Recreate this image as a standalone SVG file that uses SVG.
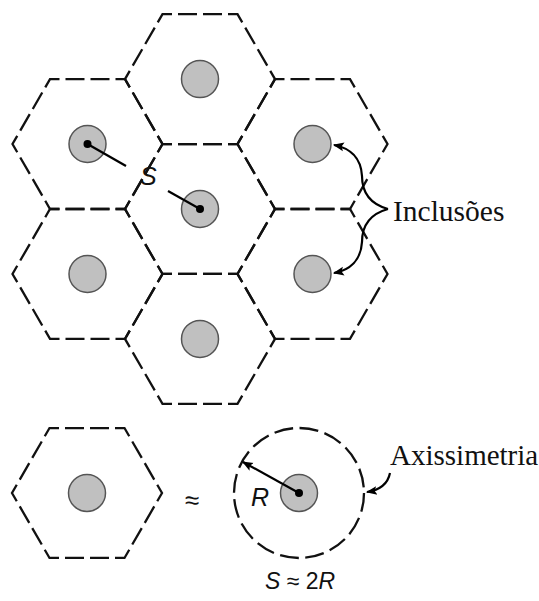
<svg xmlns="http://www.w3.org/2000/svg" width="539" height="601" viewBox="0 0 539 601">
<style>
.hex{fill:none;stroke:#111;stroke-width:2.3;stroke-dasharray:19 6;stroke-dashoffset:9.5}
.inc{fill:#c0c0c0;stroke:#555;stroke-width:1.5}
.dot{fill:#000}
.ln{fill:none;stroke:#000;stroke-width:2.2}
.sans{font-family:"Liberation Sans",Arial,sans-serif;fill:#111}
.serif{font-family:"Liberation Serif","Times New Roman",serif;fill:#111}
</style>
<defs>
<path id="hx" class="hex" d="M75,0 L37.5,64.952 L-37.5,64.952 L-75,0 L-37.5,-64.952 L37.5,-64.952 Z"/>
<marker id="ah" viewBox="0 0 10 10" refX="9" refY="5" markerWidth="11" markerHeight="11" markerUnits="userSpaceOnUse" orient="auto">
<path d="M0,1 L10,5 L0,9 L2,5 z" fill="#000"/>
</marker>
</defs>
<g id="cell-center"><use href="#hx" x="200" y="209"/><circle class="inc" cx="200" cy="209" r="18.5"/><circle class="dot" cx="200" cy="209" r="4"/></g>
<g id="cell-top"><use href="#hx" x="200" y="79.096"/><circle class="inc" cx="200" cy="79.1" r="18.5"/></g>
<g id="cell-bottom"><use href="#hx" x="200" y="338.904"/><circle class="inc" cx="200" cy="338.9" r="18.5"/></g>
<g id="cell-top-left"><use href="#hx" x="87.5" y="144.048"/><circle class="inc" cx="87.5" cy="144" r="18.5"/><circle class="dot" cx="87.5" cy="144" r="4"/></g>
<g id="cell-top-right"><use href="#hx" x="312.5" y="144.048"/><circle class="inc" cx="312.5" cy="144" r="18.5"/></g>
<g id="cell-bottom-left"><use href="#hx" x="87.5" y="273.952"/><circle class="inc" cx="87.5" cy="274" r="18.5"/></g>
<g id="cell-bottom-right"><use href="#hx" x="312.5" y="273.952"/><circle class="inc" cx="312.5" cy="274" r="18.5"/></g>
<g id="cell-single"><use href="#hx" x="87" y="493"/><circle class="inc" cx="87" cy="493" r="18.5"/></g>
<g id="cell-axisym"><circle cx="299" cy="493" r="65" fill="none" stroke="#111" stroke-width="2.3" stroke-dasharray="19 6.53"/><circle class="inc" cx="299" cy="493" r="18.5"/><circle class="dot" cx="299" cy="493" r="4"/></g>
<g id="connectors">
<line class="ln" x1="87.5" y1="144" x2="126" y2="166"/>
<line class="ln" x1="168" y1="191" x2="200" y2="209"/>
<path class="ln" d="M388,209 C370,204 362,192 362,176 C361,158 350,148 334,145" marker-end="url(#ah)"/>
<path class="ln" d="M388,209 C370,214 362,226 362,242 C361,260 350,270 334,273" marker-end="url(#ah)"/>
<path class="ln" d="M390,473 C388,483 380,490 367,492" marker-end="url(#ah)"/>
<line class="ln" x1="299" y1="493" x2="243" y2="462" marker-end="url(#ah)"/>
</g>
<g id="labels">
<text class="sans" x="140" y="185" font-size="25" font-style="italic">S</text>
<text class="sans" x="251" y="506" font-size="25" font-style="italic">R</text>
<text class="sans" x="192" y="509" font-size="26" text-anchor="middle" fill="#333">≈</text>
<text class="sans" x="265" y="589" font-size="23"><tspan font-style="italic">S</tspan> ≈ 2<tspan font-style="italic">R</tspan></text>
<text class="serif" x="393" y="221" font-size="29.5">Inclusões</text>
<text class="serif" x="390" y="465" font-size="29">Axissimetria</text>
</g>
</svg>
